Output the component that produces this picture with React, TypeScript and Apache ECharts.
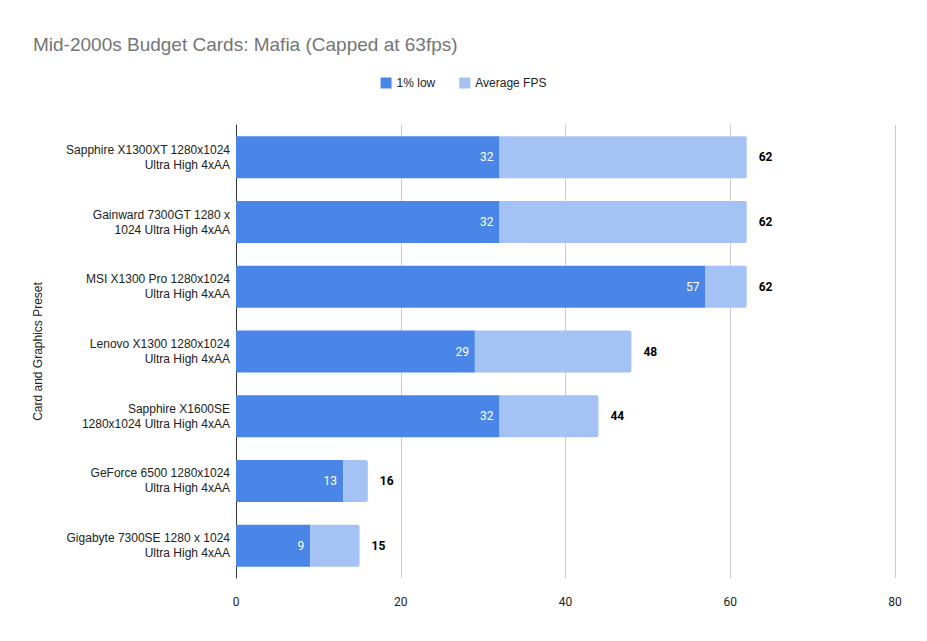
import React, { useEffect, useRef } from "react";
import * as echarts from "echarts";

const categories = [
  "Sapphire X1300XT 1280x1024\nUltra High 4xAA",
  "Gainward 7300GT 1280 x\n1024 Ultra High 4xAA",
  "MSI X1300 Pro 1280x1024\nUltra High 4xAA",
  "Lenovo X1300 1280x1024\nUltra High 4xAA",
  "Sapphire X1600SE\n1280x1024 Ultra High 4xAA",
  "GeForce 6500 1280x1024\nUltra High 4xAA",
  "Gigabyte 7300SE 1280 x 1024\nUltra High 4xAA",
];
const lowFps = [32, 32, 57, 29, 32, 13, 9];
const avgFps = [62, 62, 62, 48, 44, 16, 15];
const xTicks = [0, 20, 40, 60, 80];

export default function App() {
  const ref = useRef<HTMLDivElement>(null);
  useEffect(() => {
    if (!ref.current) return;
    const chart = echarts.init(ref.current, null, { renderer: "svg" });
    const remainder = avgFps.map((v, i) => v - lowFps[i]);
    chart.setOption({
      animation: false,
      backgroundColor: "#ffffff",
      title: {
        text: "Mid-2000s Budget Cards: Mafia (Capped at 63fps)",
        left: 20,
        top: 22,
        textStyle: {
          fontFamily: "Liberation Sans, Arial, sans-serif",
          fontSize: 19,
          fontWeight: "normal",
          color: "#757575",
        },
      },
      legend: {
        top: 64,
        left: "center",
        icon: "rect",
        itemWidth: 11,
        itemHeight: 11,
        itemGap: 24,
        textStyle: {
          fontFamily: "Liberation Sans, Arial, sans-serif",
          fontSize: 12,
          color: "#222222",
        },
        data: ["1% low", "Average FPS"],
      },
      grid: { left: 228, right: 24, top: 117, bottom: 55, containLabel: false },
      xAxis: {
        type: "value",
        min: xTicks[0],
        max: xTicks[xTicks.length - 1],
        interval: 20,
        axisLine: { show: false },
        axisTick: { show: false },
        splitLine: { lineStyle: { color: "#cccccc", width: 1 } },
        axisLabel: {
          margin: 18,
          fontFamily: "Roboto, sans-serif",
          fontSize: 12,
          color: "#222222",
        },
      },
      yAxis: {
        type: "category",
        inverse: true,
        data: categories,
        name: "Card and Graphics Preset",
        nameLocation: "middle",
        nameGap: 192,
        nameRotate: 90,
        nameTextStyle: {
          fontFamily: "Liberation Sans, Arial, sans-serif",
          fontSize: 12,
          color: "#222222",
        },
        axisLine: { show: true, lineStyle: { color: "#333333", width: 1 } },
        axisTick: { show: false },
        axisLabel: {
          margin: 6,
          align: "right",
          lineHeight: 15,
          fontFamily: "Liberation Sans, Arial, sans-serif",
          fontSize: 12,
          color: "#222222",
        },
      },
      series: [
        {
          name: "1% low",
          type: "bar",
          stack: "fps",
          barWidth: 42,
          itemStyle: { color: "#4a86e8" },
          label: {
            show: true,
            position: "insideRight",
            distance: 6,
            color: "#ffffff",
            fontFamily: "Roboto, sans-serif",
            fontSize: 12,
          },
          data: lowFps,
        },
        {
          name: "Average FPS",
          type: "bar",
          stack: "fps",
          barWidth: 42,
          itemStyle: { color: "#a4c2f4", borderRadius: [0, 2, 2, 0] },
          label: {
            show: true,
            position: "right",
            distance: 12,
            color: "#000000",
            fontWeight: "bold",
            fontFamily: "Roboto, sans-serif",
            fontSize: 12,
            formatter: (p: any) => String(avgFps[p.dataIndex]),
          },
          data: remainder,
        },
      ],
    });
    return () => chart.dispose();
  }, []);
  return <div ref={ref} style={{ width: 911, height: 625 }} />;
}
